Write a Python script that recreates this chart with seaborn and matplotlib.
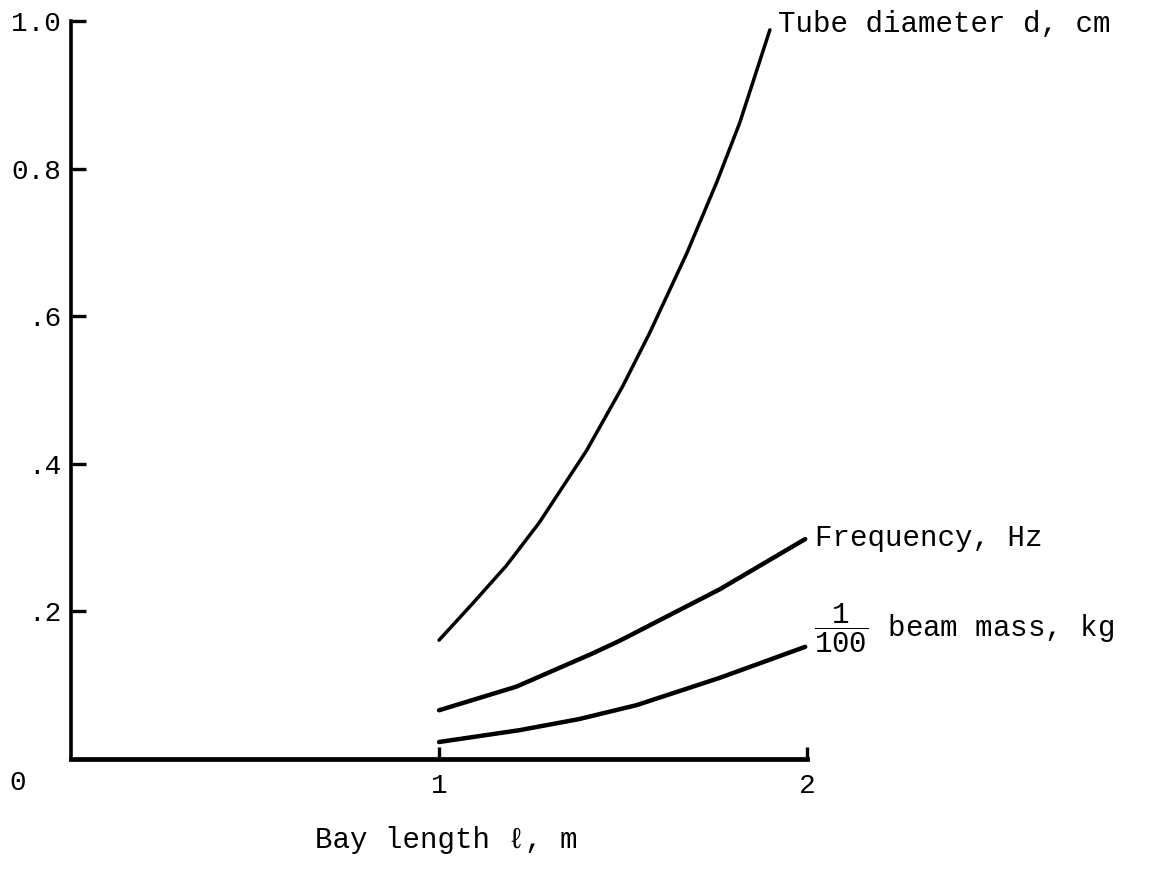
import numpy as np
import pandas as pd
import matplotlib
matplotlib.use("Agg")
import matplotlib.pyplot as plt
import seaborn as sns

# values (x = bay length in m)
tube_x = [1.0, 1.09, 1.183, 1.272, 1.401, 1.499, 1.572, 1.673, 1.755, 1.817, 1.899]
tube_y = [0.161, 0.210, 0.262, 0.320, 0.418, 0.505, 0.577, 0.685, 0.782, 0.862, 0.988]
freq_x = [1.0, 1.21, 1.417, 1.49, 1.763, 1.995]
freq_y = [0.066, 0.098, 0.143, 0.160, 0.230, 0.298]
mass_x = [1.0, 1.218, 1.38, 1.537, 1.763, 1.995]
mass_y = [0.023, 0.039, 0.054, 0.073, 0.110, 0.152]

y_ticks = [0.2, 0.4, 0.6, 0.8, 1.0]
y_tick_labels = [".2", ".4", ".6", "0.8", "1.0"]
x_ticks = [1, 2]
x_tick_labels = ["1", "2"]

sns.set_style("ticks")
plt.rcParams['font.family'] = ['Liberation Mono', 'DejaVu Sans Mono']
plt.rcParams['text.color'] = 'black'
plt.rcParams['xtick.color'] = 'black'
plt.rcParams['ytick.color'] = 'black'
plt.rcParams['axes.edgecolor'] = 'black'
plt.rcParams['mathtext.fontset'] = 'custom'
plt.rcParams['mathtext.rm'] = 'Liberation Mono'
plt.rcParams['mathtext.it'] = 'Liberation Mono'
plt.rcParams['mathtext.default'] = 'rm'

fig = plt.figure(figsize=(11.49, 8.71), dpi=100)
ax = fig.add_axes([0.0618, 0.1286, 0.6406, 0.8473])

series = [(tube_x, tube_y, 2.5), (freq_x, freq_y, 3.2), (mass_x, mass_y, 3.2)]
for xs, ys, lw in series:
    df = pd.DataFrame({"x": xs, "y": ys})
    sns.lineplot(data=df, x="x", y="y", ax=ax, color="black", linewidth=lw,
                 solid_capstyle="round", solid_joinstyle="round", clip_on=False)

ax.set_xlim(0, 2)
ax.set_ylim(0, 1.0)
sns.despine(ax=ax)
ax.spines['left'].set_linewidth(2.6)
ax.spines['bottom'].set_linewidth(3.4)

ax.set_yticks(y_ticks)
ax.set_yticklabels(y_tick_labels)
ax.set_xticks(x_ticks)
ax.set_xticklabels(x_tick_labels)
ax.tick_params(axis='y', direction='in', length=11, width=2.4, pad=7, labelsize=20,
               labelcolor='black')
ax.tick_params(axis='x', direction='in', length=9, width=2.4, pad=10, labelsize=20,
               labelcolor='black')

ax.set_xlabel("")
ax.set_ylabel("")
ax.text(-0.144, -0.033, "0", ha='center', va='center', fontsize=20, clip_on=False)
ax.text(1.02, -0.11, "Bay length ℓ, m", ha='center', va='center', fontsize=21,
        clip_on=False)

# curve labels
ax.text(1.921, 0.996, "Tube diameter d, cm", ha='left', va='center', fontsize=21,
        clip_on=False)
ax.text(2.022, 0.30, "Frequency, Hz", ha='left', va='center', fontsize=21,
        clip_on=False)
ax.text(2.02, 0.177, r"$\dfrac{1}{100}$ beam mass, kg", ha='left', va='center',
        fontsize=21, clip_on=False)

plt.savefig("out.png", dpi=100)
